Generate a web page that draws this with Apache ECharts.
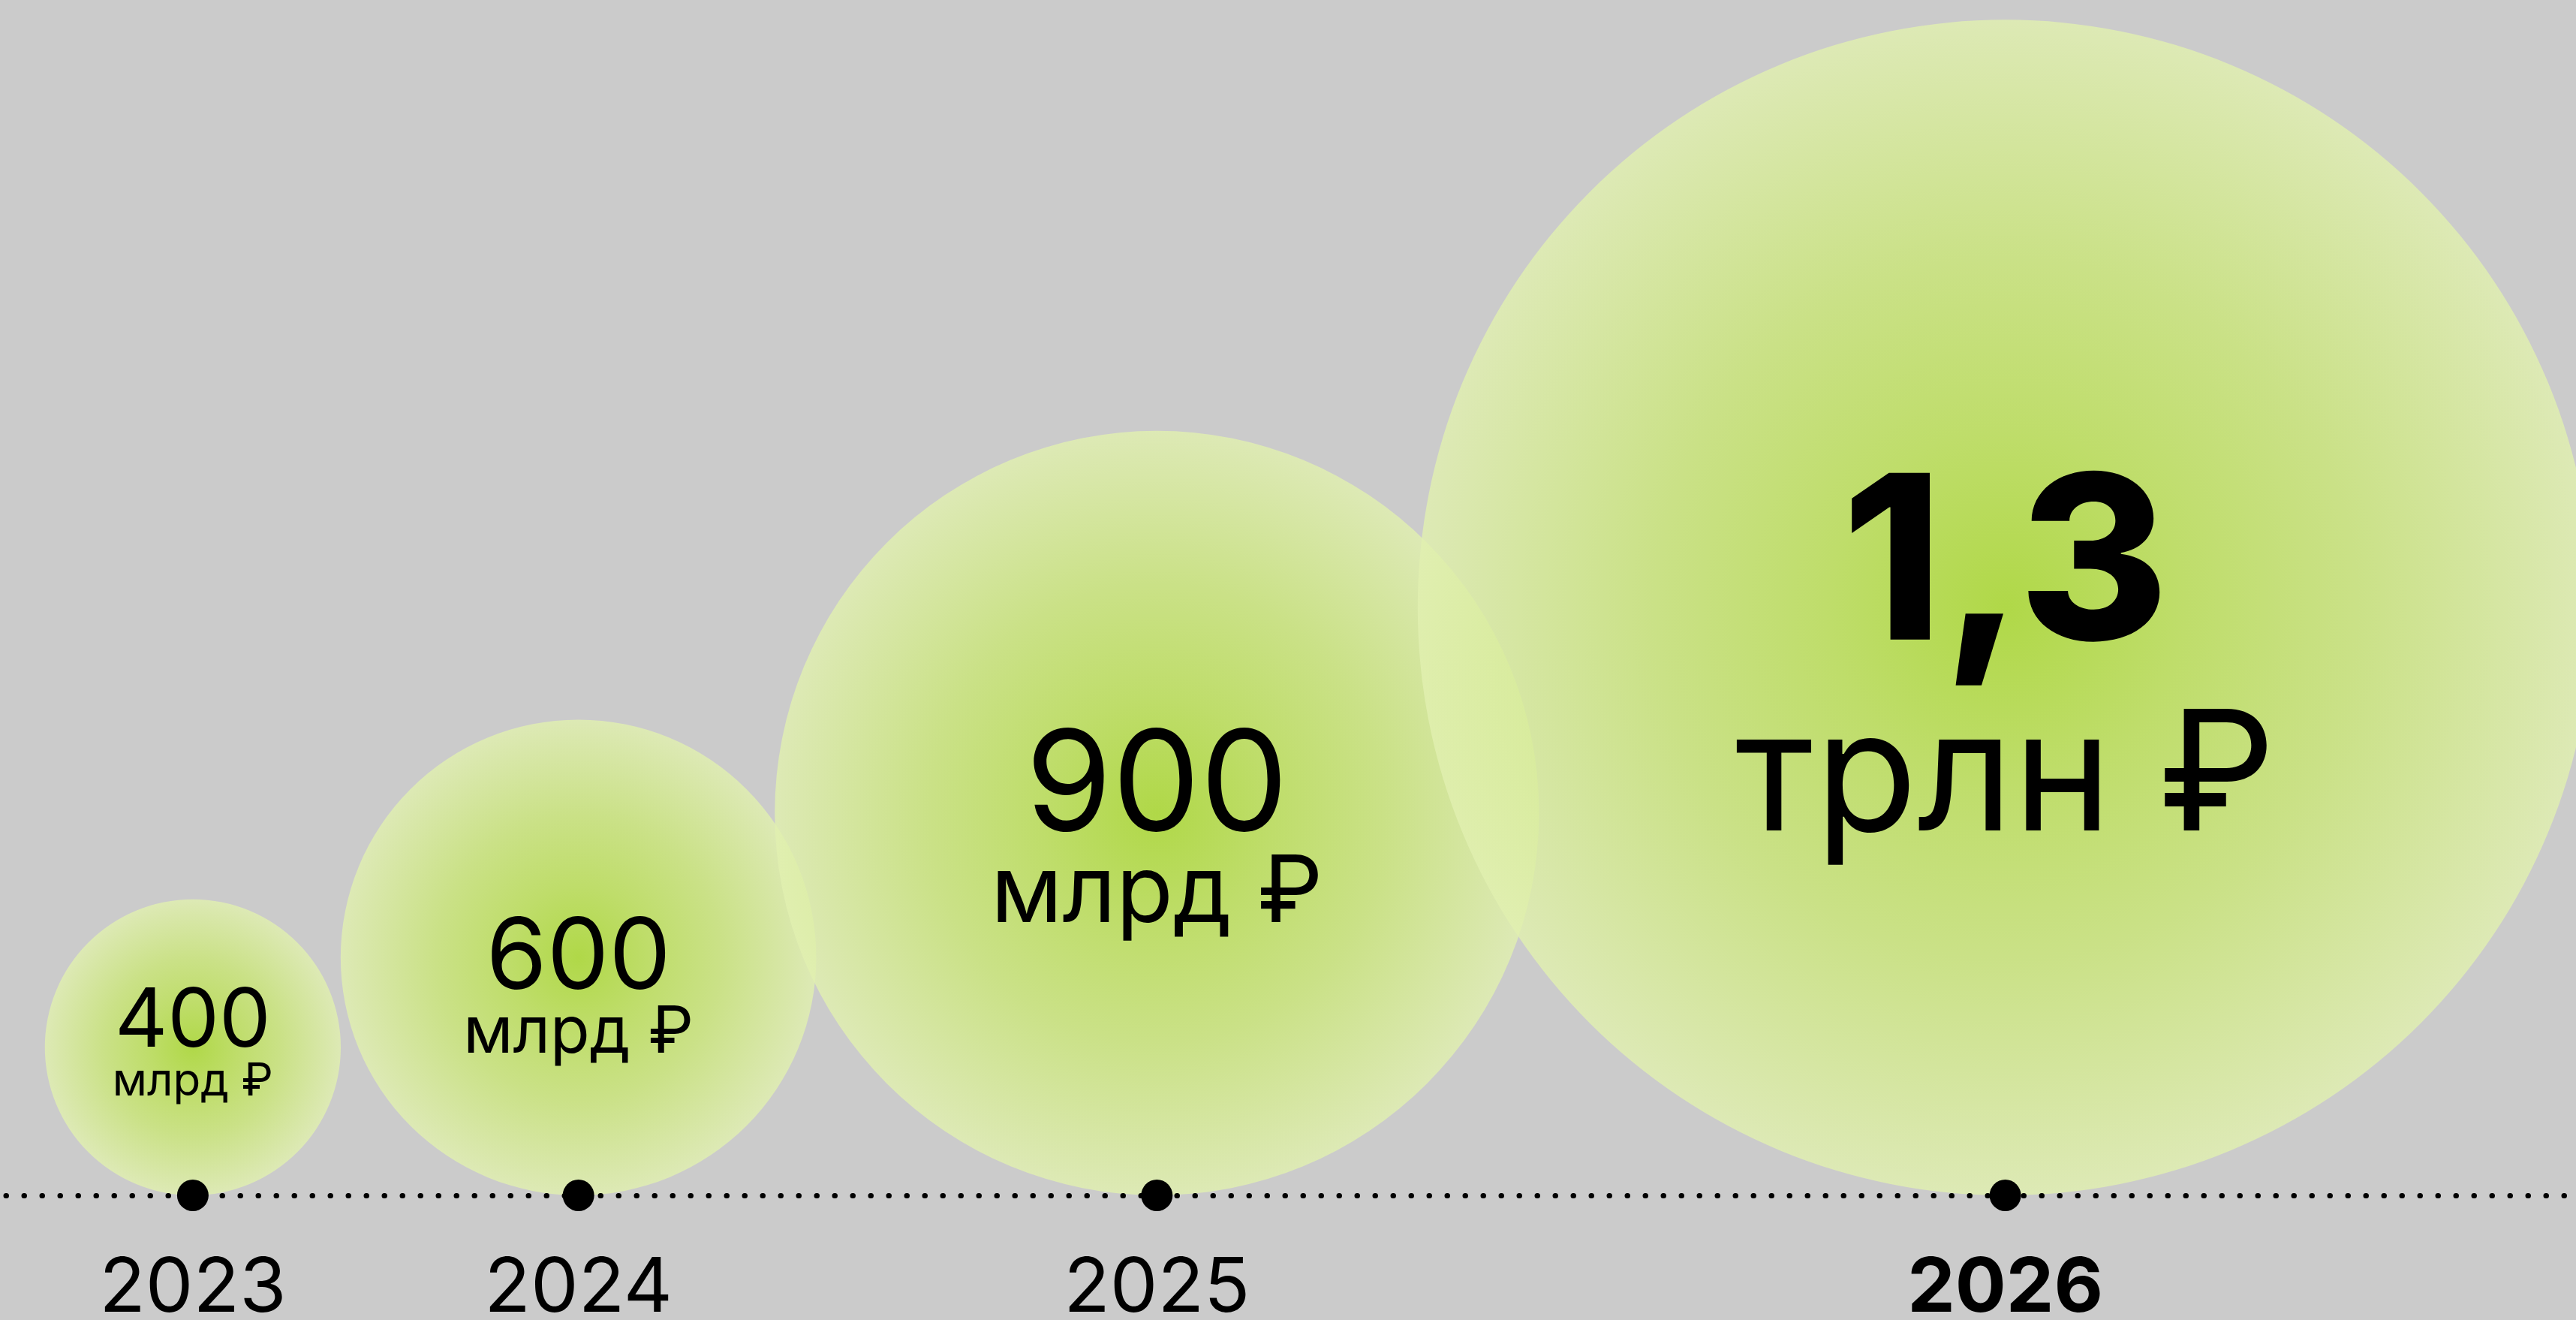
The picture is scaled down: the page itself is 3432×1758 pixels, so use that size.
<!DOCTYPE html>
<html>
<head>
<meta charset="utf-8">
<script src="https://cdn.jsdelivr.net/npm/echarts@6/dist/echarts.min.js"></script>
<style>
  html, body { margin: 0; padding: 0; background: #cbcbcb; }
  #chart { width: 3432px; height: 1758px; }
</style>
</head>
<body>
<div id="chart"></div>
<script>
// ---- data ----
const years = ['2023', '2024', '2025', '2026'];
const values = [400, 600, 900, 1300];           // млрд ₽
const amountLabels = ['400', '600', '900', '1,3'];
const unitLabels = ['млрд ₽', 'млрд ₽', 'млрд ₽', 'трлн ₽'];
const highlightYear = '2026';

// ---- layout helpers (derived from values) ----
// each bubble's centre is spaced from the previous one by the mean of both values
const positions = [];
values.forEach((v, i) => {
  positions.push(i === 0 ? 0 : positions[i - 1] + (values[i - 1] + v) / 2);
});
const SIZE_EXP = 1.17;
const SIZE_K = 0.3464;

// text styling per bubble (font sizes, offsets from baseline in px)
const textStyle = [
  { amountSize: 109, amountWeight: 400, amountDy: -231, unitSize: 60, unitDy: -151 },
  { amountSize: 131, amountWeight: 400, amountDy: -314, unitSize: 86, unitDy: -216 },
  { amountSize: 186, amountWeight: 400, amountDy: -542, unitSize: 124, unitDy: -401 },
  { amountSize: 305, amountWeight: 800, amountDy: -832, unitSize: 222, unitDy: -553 }
];
const FONT = 'Inter, "Noto Sans", "DejaVu Sans", sans-serif';

const bubbleFill = {
  type: 'radial', x: 0.5, y: 0.5, r: 0.5,
  colorStops: [
    { offset: 0, color: 'rgba(170,219,43,0.82)' },
    { offset: 0.3, color: 'rgba(188,225,85,0.82)' },
    { offset: 0.6, color: 'rgba(202,230,120,0.82)' },
    { offset: 1, color: 'rgba(225,240,176,0.82)' }
  ]
};

const chart = echarts.init(document.getElementById('chart'));
const data = values.map((v, i) => [positions[i], v, i]);

chart.setOption({
  backgroundColor: '#cbcbcb',
  animation: false,
  grid: { left: 0, right: 0, top: 0, bottom: 166 },
  xAxis: {
    type: 'value', min: -250, max: 3090, z: 3,
    axisLine: { show: true, onZero: true,
      lineStyle: { color: '#000', width: 7, type: [0.5, 23.5], dashOffset: 16, cap: 'round' } },
    axisTick: { show: false }, axisLabel: { show: false }, splitLine: { show: false }
  },
  yAxis: {
    type: 'value', min: 0, max: 1600, show: false, splitLine: { show: false }
  },
  series: [
    {
      type: 'custom', z: 2, data: data, clip: false,
      renderItem: function (params, api) {
        const x = api.value(0), v = api.value(1), i = api.value(2);
        const base = api.coord([x, 0]);
        const d = api.size([SIZE_K * Math.pow(v, SIZE_EXP), 0])[0];
        const r = d / 2;
        const cx = base[0], cy = base[1] - r;
        const t = textStyle[i];
        return {
          type: 'group',
          children: [
            { type: 'circle', shape: { cx: cx, cy: cy, r: r }, style: { fill: bubbleFill } },
            { type: 'text', style: {
                text: amountLabels[i], x: cx, y: base[1] + t.amountDy,
                align: 'center', verticalAlign: 'middle',
                fontSize: t.amountSize, fontWeight: t.amountWeight, fontFamily: FONT, fill: '#000' } },
            { type: 'text', style: {
                text: unitLabels[i], x: cx, y: base[1] + t.unitDy,
                align: 'center', verticalAlign: 'middle',
                fontSize: t.unitSize, fontWeight: 400, fontFamily: FONT, fill: '#000' } }
          ]
        };
      }
    },
    {
      type: 'custom', z: 4, data: data, clip: false,
      renderItem: function (params, api) {
        const x = api.value(0), i = api.value(2);
        const base = api.coord([x, 0]);
        return {
          type: 'group',
          children: [
            { type: 'circle', shape: { cx: base[0], cy: base[1], r: 21 }, style: { fill: '#000' } },
            { type: 'text', style: {
                text: years[i], x: base[0], y: base[1] + 125,
                align: 'center', verticalAlign: 'middle',
                fontSize: 101, fontWeight: years[i] === highlightYear ? 700 : 400,
                fontFamily: FONT, fill: '#000' } }
          ]
        };
      }
    }
  ]
});
</script>
</body>
</html>
